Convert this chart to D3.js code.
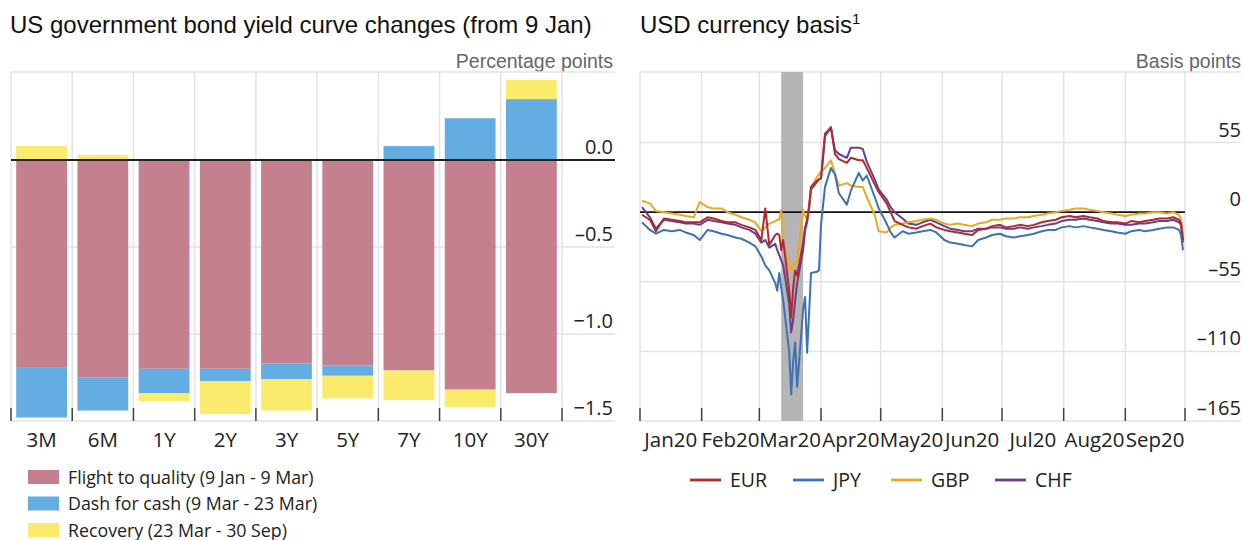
<!DOCTYPE html>
<html>
<head>
<meta charset="utf-8">
<script src="https://cdnjs.cloudflare.com/ajax/libs/d3/7.8.5/d3.min.js"></script>
<style>
body { margin: 0; background: #fff; }
svg text { font-family: "Open Sans", sans-serif; fill: #222; }
svg text.title { font-family: "Liberation Sans", Arial, sans-serif; font-size: 24px; fill: #111; }
svg text.unit { font-family: "Liberation Sans", Arial, sans-serif; font-size: 19.5px; fill: #666; }
</style>
</head>
<body>
<svg id="chart" width="1245" height="540"></svg>
<script>

// ---- left panel: yield curve changes (percentage points)
var maturities = ["3M", "6M", "1Y", "2Y", "3Y", "5Y", "7Y", "10Y", "30Y"];
var flightToQuality = [-1.19, -1.25, -1.20, -1.20, -1.17, -1.18, -1.21, -1.32, -1.34];
var dashForCash     = [-0.29, -0.19, -0.14, -0.07, -0.09, -0.06, 0.08, 0.24, 0.35];
var recovery        = [0.08, 0.03, -0.045, -0.19, -0.18, -0.13, -0.17, -0.10, 0.11];
var phaseNames = ["Flight to quality (9 Jan - 9 Mar)", "Dash for cash (9 Mar - 23 Mar)", "Recovery (23 Mar - 30 Sep)"];
var phaseColors = ["#c5808f", "#64ade3", "#fbeb6c"];
var yieldTicks = [0, -0.5, -1.0, -1.5];

// ---- right panel: USD currency basis (basis points)
var basisDates = ["2020-01-02","2020-01-06","2020-01-09","2020-01-13","2020-01-17","2020-01-21","2020-01-24","2020-01-28","2020-01-31",
    "2020-02-04","2020-02-07","2020-02-11","2020-02-14","2020-02-18","2020-02-21","2020-02-25","2020-02-28",
    "2020-03-02","2020-03-04","2020-03-06","2020-03-09","2020-03-10","2020-03-11","2020-03-12","2020-03-13","2020-03-16","2020-03-17",
    "2020-03-18","2020-03-19","2020-03-20","2020-03-23","2020-03-24","2020-03-25","2020-03-26","2020-03-27","2020-03-30","2020-03-31",
    "2020-04-01","2020-04-02","2020-04-03","2020-04-06","2020-04-08","2020-04-10","2020-04-14","2020-04-16","2020-04-20","2020-04-22",
    "2020-04-24","2020-04-28","2020-04-30",
    "2020-05-04","2020-05-06","2020-05-08","2020-05-12","2020-05-15","2020-05-19","2020-05-22","2020-05-26","2020-05-29",
    "2020-06-02","2020-06-05","2020-06-09","2020-06-12","2020-06-16","2020-06-19","2020-06-23","2020-06-26","2020-06-30",
    "2020-07-03","2020-07-07","2020-07-10","2020-07-14","2020-07-17","2020-07-21","2020-07-24","2020-07-28","2020-07-31",
    "2020-08-04","2020-08-07","2020-08-11","2020-08-14","2020-08-18","2020-08-21","2020-08-25","2020-08-28",
    "2020-09-01","2020-09-04","2020-09-08","2020-09-11","2020-09-15","2020-09-18","2020-09-22","2020-09-25","2020-09-28","2020-09-29","2020-09-30"];

var eur = [-2,-6,-15,-5,-6,-7,-8,-8,-8,
    -4,-5,-7,-8,-8,-10,-12,-14,
    -22,3,-26,-18,-17,-18,-30,-22,-62,-83,
    -60,-46,-50,-24,-12,-6,5,20,25,26,
    27,45,62,67,46,42,39,43,41,41,
    35,22,16,
    7,0,-7,-10,-12,-13,-11,-9,-12,
    -14,-15,-16,-17,-18,-14,-13,-11,-10,
    -12,-11,-10,-11,-10,-8,-7,-6,-4,
    -3,-4,-3,-4,-5,-7,-8,-8,
    -9,-7,-8,-7,-6,-5,-5,-4,-6,-9,-22];

var jpy = [-8,-14,-17,-14,-15,-14,-16,-18,-22,
    -14,-15,-17,-18,-20,-21,-24,-27,
    -35,-42,-46,-56,-62,-48,-60,-70,-110,-144,
    -118,-103,-138,-77,-67,-111,-80,-48,-47,-46,
    -10,5,20,35,30,15,6,17,31,25,
    29,12,3,
    -9,-16,-20,-15,-17,-16,-15,-14,-16,
    -22,-24,-25,-26,-27,-22,-20,-18,-17,
    -19,-20,-19,-18,-17,-15,-14,-14,-12,
    -11,-12,-11,-12,-13,-14,-15,-16,
    -17,-15,-14,-15,-14,-13,-12,-12,-14,-18,-30];

var gbp = [9,7,1,0,-1,-2,-3,-4,8,
    4,3,3,0,-2,-4,-6,-8,
    -15,-12,-9,-7,-6,-6,2,-24,-44,-46,
    -40,-42,-38,2,-3,-6,5,20,28,30,
    32,33,35,41,31,21,23,21,20,20,
    12,-2,-15,
    -16,-12,-10,-9,-8,-7,-6,-5,-6,
    -9,-10,-9,-10,-11,-9,-8,-6,-6,
    -5,-5,-4,-4,-3,-2,-1,0,1,
    2,3,3,2,1,0,-1,-2,
    -3,-2,-1,-1,0,0,-1,0,-2,-5,-18];

var chf = [4,-4,-13,-6,-7,-8,-9,-9,-10,
    -6,-7,-8,-9,-10,-12,-14,-17,
    -24,-22,-28,-25,-30,-34,-38,-42,-72,-95,
    -85,-70,-56,-30,-14,-8,2,18,24,26,
    27,42,60,67,49,46,43,51,51,50,
    40,26,18,
    10,4,0,-5,-9,-10,-8,-6,-8,
    -11,-13,-14,-15,-15,-13,-13,-12,-12,
    -13,-13,-12,-13,-12,-11,-10,-9,-7,
    -6,-6,-5,-6,-7,-8,-9,-9,
    -10,-10,-9,-9,-8,-7,-7,-6,-8,-10,-24];

var currencies = ["EUR", "JPY", "GBP", "CHF"];
var currencyColors = ["#b3282e", "#3d72b8", "#e9a826", "#663f8e"];
var monthLabels = ["Jan20", "Feb20", "Mar20", "Apr20", "May20", "Jun20", "Jul20", "Aug20", "Sep20"];
var basisTicks = [55, 0, -55, -110, -165];
var shadeStart = "2020-03-12", shadeEnd = "2020-03-23";

var svg = d3.select("#chart"),
    grid = "#e3e3e3",
    parseDate = d3.timeParse("%Y-%m-%d");

drawYieldPanel();
drawBasisPanel();

function drawYieldPanel() {

    var x = d3.scaleBand().domain(maturities).range([11, 562]).paddingInner(0.17).paddingOuter(0.085),
        y = d3.scaleLinear().domain([-1.5, 0.5]).range([421, 73]),
        right = 615,
        g = svg.append("g");

    g.append("text").attr("class", "title").attr("x", 10).attr("y", 33).text("US government bond yield curve changes (from 9 Jan)");
    g.append("text").attr("class", "unit").attr("x", 613).attr("y", 68).attr("text-anchor", "end").text("Percentage points");

    var bounds = maturities.map(function(m) { return x(m) - x.step() * x.paddingInner() / 2; }).concat([x.range()[1]]);

    // grid
    g.append("line").attr("x1", 11).attr("x2", right).attr("y1", 72).attr("y2", 72).attr("stroke", grid).attr("stroke-width", 1.5);
    g.selectAll(".vgrid").data(bounds).enter().append("line")
        .attr("x1", function(d) { return d; }).attr("x2", function(d) { return d; })
        .attr("y1", 72).attr("y2", 421).attr("stroke", grid).attr("stroke-width", 1.5);
    g.selectAll(".hgrid").data(yieldTicks.filter(function(t) { return t != 0; })).enter().append("line")
        .attr("x1", 11).attr("x2", right)
        .attr("y1", function(d) { return y(d); }).attr("y2", function(d) { return y(d); })
        .attr("stroke", grid).attr("stroke-width", 1.5);

    // stacked bars
    var table = maturities.map(function(m, i) {
        return {m: m, a: flightToQuality[i], b: dashForCash[i], c: recovery[i]};
    });
    var series = d3.stack().keys(["a", "b", "c"]).offset(d3.stackOffsetDiverging)(table);

    g.selectAll(".series").data(series).enter().append("g")
        .attr("fill", function(d, i) { return phaseColors[i]; })
        .selectAll("rect").data(function(d) { return d; }).enter().append("rect")
        .attr("x", function(d) { return x(d.data.m); })
        .attr("width", x.bandwidth())
        .attr("y", function(d) { return y(Math.max(d[0], d[1])); })
        .attr("height", function(d) { return Math.abs(y(d[0]) - y(d[1])); });

    // zero line
    g.append("line").attr("x1", 11).attr("x2", right).attr("y1", y(0)).attr("y2", y(0)).attr("stroke", "#222").attr("stroke-width", 1.8);

    // y labels sit above their gridline
    g.selectAll(".ylab").data(yieldTicks).enter().append("text")
        .attr("x", 613).attr("y", function(d) { return y(d) - 6; })
        .attr("text-anchor", "end").style("font-size", "20px")
        .text(function(d) { return d3.format(".1f")(d).replace("-", "\u2013").replace("\u22120", "\u20130"); });

    // bottom ticks and category labels
    g.selectAll(".xtick").data(bounds).enter().append("line")
        .attr("x1", function(d) { return d; }).attr("x2", function(d) { return d; })
        .attr("y1", 408).attr("y2", 421).attr("stroke", "#444").attr("stroke-width", 1.5);
    g.selectAll(".xlab").data(maturities).enter().append("text")
        .attr("x", function(d) { return x(d) + x.bandwidth() / 2; }).attr("y", 447)
        .attr("text-anchor", "middle").style("font-size", "20.5px")
        .text(function(d) { return d; });

    // legend
    var leg = g.selectAll(".leg").data(phaseNames).enter().append("g")
        .attr("transform", function(d, i) { return "translate(28," + (477 + i * 26.5) + ")"; });
    leg.append("rect").attr("x", 0).attr("y", -7).attr("width", 31).attr("height", 14)
        .attr("fill", function(d, i) { return phaseColors[i]; });
    leg.append("text").attr("x", 40).attr("y", 6.5).style("font-size", "17.8px").text(function(d) { return d; });
}

function drawBasisPanel() {

    var x = d3.scaleTime().domain([new Date(2020, 0, 1), new Date(2020, 9, 1)]).range([640, 1185]),
        y = d3.scaleLinear().domain([-165, 110]).range([421, 73]),
        right = 1241,
        g = svg.append("g");

    var t = g.append("text").attr("class", "title").attr("x", 640).attr("y", 33).text("USD currency basis");
    t.append("tspan").attr("dy", -9).style("font-size", "15px").text("1");
    g.append("text").attr("class", "unit").attr("x", 1241).attr("y", 68).attr("text-anchor", "end").text("Basis points");

    var months = d3.timeMonth.range(new Date(2020, 0, 1), new Date(2020, 9, 2));

    // grid
    g.append("line").attr("x1", 640).attr("x2", right).attr("y1", 72).attr("y2", 72).attr("stroke", grid).attr("stroke-width", 1.5);
    g.selectAll(".vgrid").data(months).enter().append("line")
        .attr("x1", function(d) { return x(d); }).attr("x2", function(d) { return x(d); })
        .attr("y1", 72).attr("y2", 421).attr("stroke", grid).attr("stroke-width", 1.5);
    g.selectAll(".hgrid").data(basisTicks.filter(function(t) { return t != 0; })).enter().append("line")
        .attr("x1", 640).attr("x2", right)
        .attr("y1", function(d) { return y(d); }).attr("y2", function(d) { return y(d); })
        .attr("stroke", grid).attr("stroke-width", 1.5);

    // dash for cash shading
    g.append("rect")
        .attr("x", x(parseDate(shadeStart))).attr("width", x(parseDate(shadeEnd)) - x(parseDate(shadeStart)))
        .attr("y", 72).attr("height", 421 - 72).attr("fill", "#b5b5b5");

    g.append("line").attr("x1", 640).attr("x2", 1185).attr("y1", y(0)).attr("y2", y(0)).attr("stroke", "#111").attr("stroke-width", 1.8);

    var values = [eur, jpy, gbp, chf];
    var line = d3.line()
        .x(function(d) { return x(d.date); })
        .y(function(d) { return y(d.v); });

    // draw CHF first so EUR ends up on top
    [3, 2, 1, 0].forEach(function(k) {
        var pts = basisDates.map(function(s, i) { return {date: parseDate(s), v: values[k][i]}; });
        g.append("path").datum(pts)
            .attr("d", line)
            .attr("fill", "none")
            .attr("stroke", currencyColors[k])
            .attr("stroke-width", 2)
            .attr("stroke-linejoin", "round");
    });

    g.selectAll(".ylab").data(basisTicks).enter().append("text")
        .attr("x", 1241).attr("y", function(d) { return y(d) - 6; })
        .attr("text-anchor", "end").style("font-size", "20px")
        .text(function(d) { return String(d).replace("-", "\u2013"); });

    g.selectAll(".xtick").data(months).enter().append("line")
        .attr("x1", function(d) { return x(d); }).attr("x2", function(d) { return x(d); })
        .attr("y1", 408).attr("y2", 421).attr("stroke", "#444").attr("stroke-width", 1.5);
    g.selectAll(".xlab").data(monthLabels).enter().append("text")
        .attr("x", function(d, i) { return (x(months[i]) + x(months[i + 1])) / 2; }).attr("y", 447)
        .attr("text-anchor", "middle").style("font-size", "20.5px")
        .text(function(d) { return d; });

    // legend
    var legX = [690, 793, 891, 995];
    var leg = g.selectAll(".leg").data(currencies).enter().append("g")
        .attr("transform", function(d, i) { return "translate(" + legX[i] + ",480)"; });
    leg.append("line").attr("x1", 0).attr("x2", 31).attr("y1", 0).attr("y2", 0)
        .attr("stroke", function(d, i) { return currencyColors[i]; }).attr("stroke-width", 2.8);
    leg.append("text").attr("x", 40).attr("y", 7).style("font-size", "19.5px").text(function(d) { return d; });
}
</script>
</body>
</html>
